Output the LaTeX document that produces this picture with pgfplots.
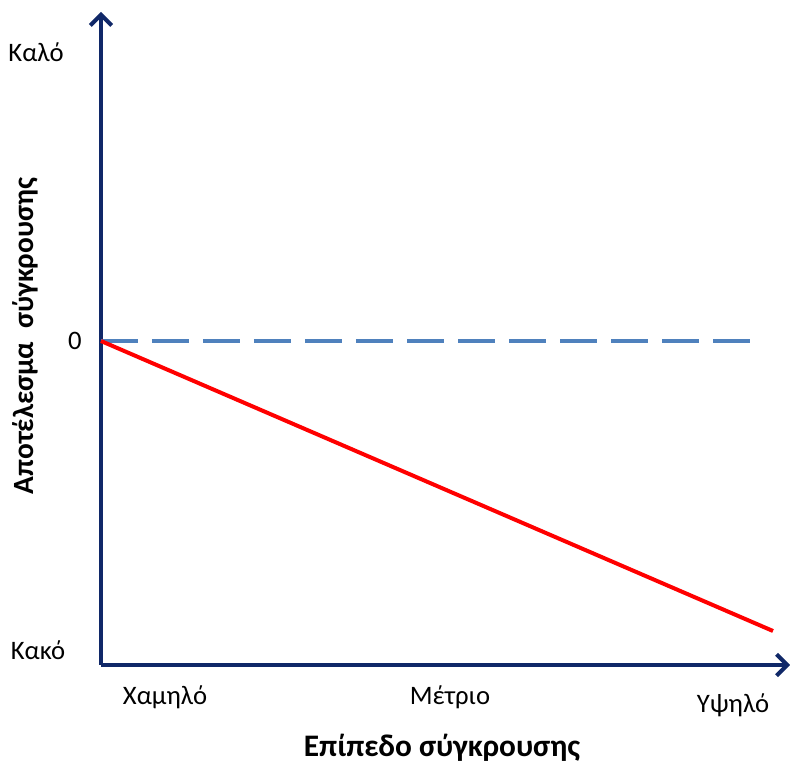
\documentclass[border=0pt]{standalone}
\usepackage{pgfplots}
\pgfplotsset{compat=1.18}
\usepackage{fontspec}
\setmainfont{Carlito}
\usetikzlibrary{arrows.meta}
\definecolor{navy}{RGB}{16,40,104}
\definecolor{dashblue}{RGB}{79,129,189}
\begin{document}
\begin{tikzpicture}[x=0.75pt,y=0.75pt]
\begin{axis}[
  scale only axis,
  width=516.75pt, height=489.75pt,
  xmin=0, xmax=689, ymin=0, ymax=653,
  axis lines=left,
  axis line style={draw=navy, line width=3pt, -{Straight Barb[length=8pt,width=16pt,line width=3pt]}},
  ticks=none,
  clip=false,
]
\addplot[dashblue, line width=3pt, dash pattern=on 27.75pt off 10.5pt] coordinates {(0,324) (651,324)};
\addplot[red, line width=3pt] coordinates {(0,324) (672,34)};
\node[font=\fontsize{20}{23}\selectfont] at (axis cs:-65,613) {Καλό};
\node[font=\fontsize{20}{23}\selectfont] at (axis cs:-26,324) {0};
\node[font=\fontsize{20}{23}\selectfont] at (axis cs:-63,15) {Κακό};
\node[font=\fontsize{20}{23}\selectfont] at (axis cs:64,-32) {Χαμηλό};
\node[font=\fontsize{20}{23}\selectfont] at (axis cs:349,-32) {Μέτριο};
\node[font=\fontsize{20}{23}\selectfont] at (axis cs:632,-40) {Υψηλό};
\node[font=\fontsize{23.5}{27}\selectfont\bfseries] at (axis cs:341,-83) {Επίπεδο σύγκρουσης};
\node[font=\fontsize{22}{26}\selectfont\bfseries, rotate=90] at (axis cs:-76,329) {Αποτέλεσμα\ \ σύγκρουσης};
\coordinate (BL) at (axis cs:-101,-99);
\coordinate (TR) at (axis cs:689,665);
\end{axis}
\pgfresetboundingbox
\useasboundingbox (BL) rectangle (TR);
\end{tikzpicture}
\end{document}
